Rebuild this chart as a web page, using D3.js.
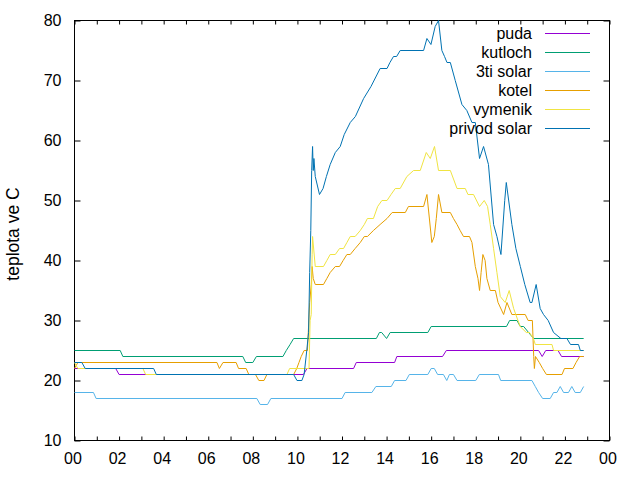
<!DOCTYPE html>
<html>
<head>
<meta charset="utf-8">
<script src="https://cdn.jsdelivr.net/npm/d3@7"></script>
<style>
  html, body { margin: 0; padding: 0; background: #fff; }
  svg { display: block; font-family: "Liberation Sans", Arial, sans-serif; }
</style>
</head>
<body>
<svg id="chart" width="640" height="480"></svg>
<script>
// ---- data: [hour, temperature °C] breakpoints ----
const seriesNames = ["puda", "kutloch", "3ti solar", "kotel", "vymenik", "privod solar"];
const seriesColors = ["#9400D3", "#009E73", "#56B4E9", "#E69F00", "#F0E442", "#0072B2"];

const puda = [[0,22],[1.85,22],[2.0,21],[10.27,21],[10.43,22],[12.52,22],[12.64,23],[14.36,23],[14.46,24],[16.51,24],[16.68,25],[20.82,25],[20.98,24],[21.14,25],[21.69,25],[21.85,24],[22.84,24]];

const kutloch = [[0,25],[2.05,25],[2.17,24],[7.55,24],[7.68,23],[8.0,23],[8.16,24],[9.35,24],[9.5,25],[9.67,26],[9.83,27],[13.54,27],[13.68,28],[13.78,28],[14.0,27],[14.16,28],[15.85,28],[16.0,29],[19.38,29],[19.52,30],[19.85,30],[20.0,29],[20.15,29],[20.37,28],[20.6,27],[22.84,27]];

const tiSolar = [[0,18],[0.85,18],[0.97,17],[8.18,17],[8.33,16],[8.66,16],[8.81,17],[12.0,17],[12.14,18],[13.34,18],[13.52,19],[14.21,19],[14.36,20],[14.87,20],[15.02,21],[15.85,21],[16.0,22],[16.14,22],[16.29,21],[16.55,21],[16.7,20],[16.82,21],[17.0,21],[17.16,20],[18.0,20],[18.16,21],[19.02,21],[19.12,20],[20.52,20],[20.67,19],[20.82,18],[21.0,17],[21.34,17],[21.49,18],[21.64,18],[21.79,19],[21.94,18],[22.16,18],[22.31,19],[22.46,18],[22.69,18],[22.84,19]];

const kotel = [[0,22],[0.15,23],[6.39,23],[6.5,22],[6.66,23],[7.25,23],[7.36,22],[7.7,22],[7.82,21],[8.12,21],[8.27,20],[8.5,20],[8.63,21],[9.83,21],[9.97,22],[10.07,23],[10.17,24],[10.3,25],[10.45,25],[10.55,33],[10.62,36],[10.66,39],[10.71,37],[10.8,36],[11.17,36],[11.32,37],[11.47,38],[11.7,39],[11.89,39],[12.05,40],[12.22,41],[12.37,41],[12.59,42],[12.82,43],[13.0,44],[13.14,44],[13.41,45],[13.71,46],[14.02,47],[14.25,48],[14.84,48],[14.98,49],[15.66,49],[15.81,51],[16.03,43],[16.14,44],[16.23,47],[16.33,51],[16.48,48],[16.86,48],[17.0,47],[17.16,46],[17.3,45],[17.45,44],[17.72,44],[17.83,43],[17.98,39],[18.1,37],[18.17,35],[18.24,38],[18.32,41],[18.42,40],[18.5,37],[18.65,35],[18.88,35],[19.0,33],[19.25,31],[19.4,33],[19.62,31],[20.22,31],[20.35,30],[20.54,30],[20.6,24],[20.63,22],[20.68,24],[20.85,23],[21.0,22],[21.17,21],[21.87,21],[21.98,22],[22.36,22],[22.5,23],[22.66,24],[22.84,24]];

const vymenik = [[0,23],[0.15,22],[3.07,22],[3.19,21],[9.53,21],[9.65,22],[10.52,22],[10.57,30],[10.62,31],[10.66,41],[10.68,44],[10.8,39],[11.17,39],[11.32,40],[11.47,41],[11.7,41],[11.89,42],[12.07,42],[12.22,43],[12.37,44],[12.59,44],[12.82,45],[13.0,46],[13.14,47],[13.41,47],[13.6,49],[13.79,50],[14.02,50],[14.2,51],[14.39,52],[14.61,52],[14.91,54],[15.21,55],[15.51,55],[15.78,58],[15.96,57],[16.15,59],[16.33,55],[16.86,55],[17.16,52],[17.53,52],[17.65,51],[17.9,51],[18.17,49],[18.38,50],[18.53,49],[18.65,46],[18.8,42],[18.95,38],[19.1,34],[19.32,33],[19.5,35],[19.7,32],[19.99,29],[20.27,28],[20.41,28],[20.59,27],[20.67,26],[21.42,26],[21.49,25],[22.84,25]];

const privodSolar = [[0,23],[0.33,23],[0.48,22],[3.55,22],[3.67,21],[9.83,21],[9.98,20],[10.2,20],[10.3,21],[10.42,25],[10.5,28],[10.55,38],[10.6,45],[10.64,55],[10.68,59],[10.71,55],[10.74,57],[10.8,54],[10.99,51],[11.15,52],[11.3,54],[11.47,56],[11.7,58],[11.92,59],[12.1,61],[12.37,63],[12.6,64],[12.97,67],[13.3,69],[13.71,72],[14.02,72],[14.15,73],[14.31,74],[14.45,74],[14.61,75],[15.66,75],[15.81,77],[15.99,76],[16.18,79],[16.33,80],[16.48,75],[16.6,74],[16.71,73],[16.86,73],[17.08,70],[17.38,66],[17.6,65],[17.83,63],[17.98,63],[18.17,57],[18.35,59],[18.57,56],[18.8,46],[18.95,44],[19.13,41],[19.3,50],[19.37,53],[19.62,46],[19.8,42],[20.0,39],[20.2,36],[20.44,33],[20.52,33],[20.71,36],[20.89,32],[21.04,31],[21.25,30],[21.49,28],[21.82,27],[22.09,27],[22.25,26],[22.61,26],[22.69,25],[22.84,25]];

const seriesData = [puda, kutloch, tiSolar, kotel, vymenik, privodSolar];

const yTicks = [10, 20, 30, 40, 50, 60, 70, 80];
const xTicks = d3.range(0, 25, 1);          // hourly ticks
const xLabelHours = d3.range(0, 25, 2);     // labelled every 2 h
const yLabel = "teplota ve C";

// ---- layout ----
const svg = d3.select("#chart");
const L = 74.5, R = 609.5, T = 20.5, B = 440.5;

const x = d3.scaleLinear().domain([0, 24]).range([L, R]);
const y = d3.scaleLinear().domain([10, 80]).range([B, T]);

const fmtHour = h => xLabelHours.includes(h) ? String(h % 24).padStart(2, "0") : "";

// axes
const gB = svg.append("g").attr("transform", `translate(0,${B})`)
  .call(d3.axisBottom(x).tickValues(xTicks).tickFormat(fmtHour).tickSize(-4).tickPadding(12));
const gT = svg.append("g").attr("transform", `translate(0,${T})`)
  .call(d3.axisTop(x).tickValues(xTicks).tickFormat("").tickSize(-4));
const gL = svg.append("g").attr("transform", `translate(${L},0)`)
  .call(d3.axisLeft(y).tickValues(yTicks).tickFormat(d3.format("d")).tickSize(-6).tickPadding(13));
const gR = svg.append("g").attr("transform", `translate(${R},0)`)
  .call(d3.axisRight(y).tickValues(yTicks).tickFormat("").tickSize(-6));

[gB, gT, gL, gR].forEach(g => {
  g.select(".domain").remove();
  g.selectAll(".tick line").attr("stroke", "#000");
  g.selectAll("text").attr("fill", "#000").style("font-size", "16px")
    .style("font-family", "'Liberation Sans', Arial, sans-serif");
});
gB.selectAll("text").attr("dx", -2);

// frame
svg.append("rect").attr("x", L).attr("y", T).attr("width", R - L).attr("height", B - T)
  .attr("fill", "none").attr("stroke", "#000").attr("stroke-width", 1);

// y label
svg.append("text")
  .attr("transform", `translate(19,234) rotate(-90)`)
  .attr("text-anchor", "middle")
  .style("font-size", "17.5px")
  .text(yLabel);

// lines
const line = d3.line().x(d => x(d[0])).y(d => y(d[1]));
const plot = svg.append("g");
seriesData.forEach((s, i) => {
  plot.append("path").datum(s)
    .attr("fill", "none").attr("stroke", seriesColors[i]).attr("stroke-width", 1)
    .attr("d", line);
});

// legend
const leg = svg.append("g");
seriesNames.forEach((n, i) => {
  const yy = 33 + 19 * i;
  leg.append("text").attr("x", 532).attr("y", yy).attr("dy", "0.35em")
    .attr("text-anchor", "end").style("font-size", "16px").text(n);
  leg.append("line").attr("x1", 545).attr("x2", 590).attr("y1", yy + 0.5).attr("y2", yy + 0.5)
    .attr("stroke", seriesColors[i]).attr("stroke-width", 1);
});
</script>
</body>
</html>
